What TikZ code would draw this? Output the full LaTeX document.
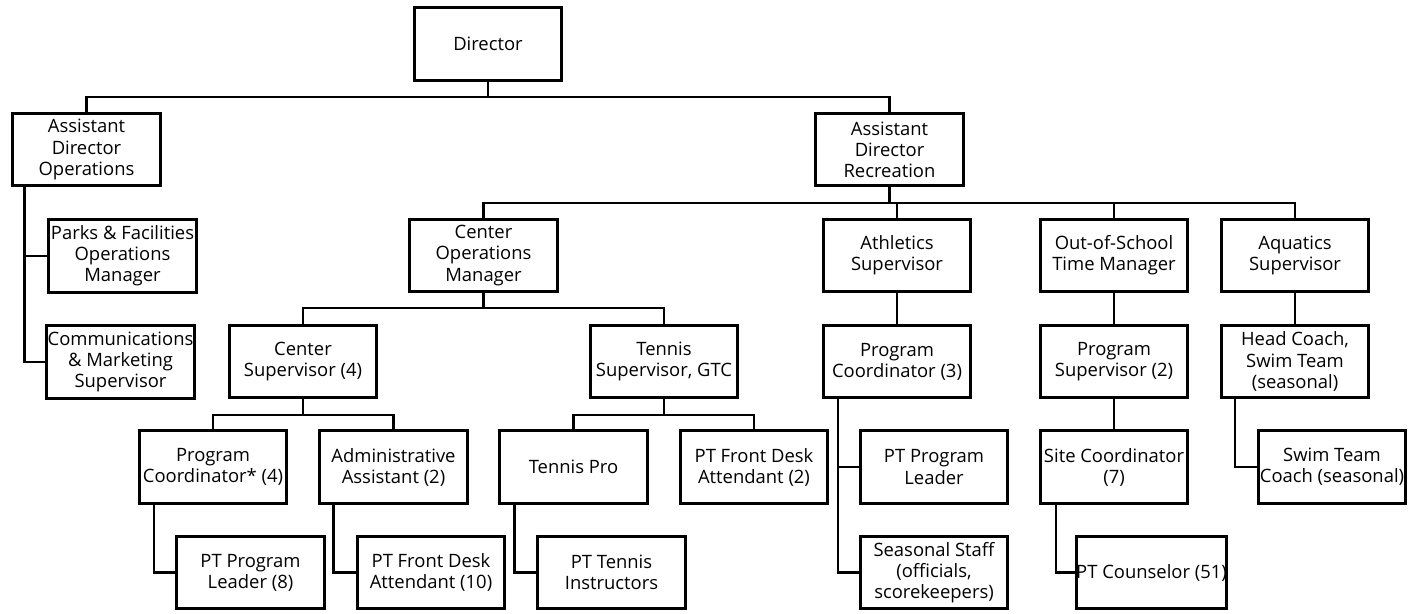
\documentclass[tikz,border=0pt]{standalone}
\usepackage{fontspec}
\setmainfont{Open Sans}

\begin{document}
\begin{tikzpicture}[
  x=0.025cm, y=-0.025cm,
  staff/.style = {rectangle, draw=black, line width=2.1pt, fill=white,
                  minimum width=3.68cm, minimum height=1.82cm, inner sep=0pt,
                  font=\fontsize{13.1}{15}\selectfont, align=center},
  conn/.style  = {line width=2pt, black}
]
\useasboundingbox (0,0) rectangle (1418,613);

\node[staff] (director)  at (488,  44)    {Director};
\node[staff] (adops)     at (86.5, 149.5) {Assistant\\Director\\Operations};
\node[staff] (adrec)     at (889.5,149.5) {Assistant\\Director\\Recreation};
\node[staff] (parks)     at (122.5,256)   {Parks \& Facilities\\Operations\\Manager};
\node[staff] (comms)     at (120.5,362)   {Communications\\\& Marketing\\Supervisor};
\node[staff] (com)       at (483.5,255.5) {Center\\Operations\\Manager};
\node[staff] (athl)      at (897,  255.5) {Athletics\\Supervisor};
\node[staff] (ost)       at (1114, 255.5) {Out-of-School\\Time Manager};
\node[staff] (aqua)      at (1295, 255.5) {Aquatics\\Supervisor};
\node[staff] (censup)    at (303,  361.5) {Center\\Supervisor (4)};
\node[staff] (tensup)    at (664,  361.5) {Tennis\\Supervisor, GTC};
\node[staff] (progco3)   at (897,  361.5) {Program\\Coordinator (3)};
\node[staff] (progsup)   at (1114, 361.5) {Program\\Supervisor (2)};
\node[staff] (headcoach) at (1295, 361.5) {Head Coach,\\Swim Team\\(seasonal)};
\node[staff] (progco4)   at (213,  467)   {Program\\Coordinator* (4)};
\node[staff] (admin)     at (393.5,467)   {Administrative\\Assistant (2)};
\node[staff] (tennispro) at (573.5,467)   {Tennis Pro};
\node[staff] (ptfd2)     at (754,  467)   {PT Front Desk\\Attendant (2)};
\node[staff] (ptpl)      at (934,  467)   {PT Program\\Leader};
\node[staff] (sitecoord) at (1114, 467)   {Site Coordinator\\(7)};
\node[staff] (swimcoach) at (1332, 467)   {Swim Team\\Coach (seasonal)};
\node[staff] (ptpl8)     at (250.5,572.5) {PT Program\\Leader (8)};
\node[staff] (ptfd10)    at (431,  572.5) {PT Front Desk\\Attendant (10)};
\node[staff] (ptti)      at (611.5,572.5) {PT Tennis\\Instructors};
\node[staff] (seasonal)  at (934,  572.5) {Seasonal Staff\\(officials,\\scorekeepers)};
\node[staff] (ptcouns)   at (1151.5,572.5){PT Counselor (51)};

% bus lines
\coordinate (dirbus) at (488,97);
\coordinate (recbus) at (889.5,203);
\coordinate (combus) at (483.5,308);
\coordinate (csbus)  at (303,415);
\coordinate (tsbus)  at (664,415);

\draw[conn] (director) -- (dirbus);
\draw[conn] (adops.north) |- (dirbus) -| (adrec.north);

\draw[conn] (adrec) -- (recbus);
\draw[conn] (com.north) |- (recbus) -| (aqua.north);
\draw[conn] (athl.north) -- (athl.north |- recbus);
\draw[conn] (ost.north)  -- (ost.north |- recbus);

\draw[conn] (com) -- (combus);
\draw[conn] (censup.north) |- (combus) -| (tensup.north);

\draw[conn] (censup) -- (csbus);
\draw[conn] (progco4.north) |- (csbus) -| (admin.north);
\draw[conn] (tensup) -- (tsbus);
\draw[conn] (tennispro.north) |- (tsbus) -| (ptfd2.north);

% straight drops
\draw[conn] (athl) -- (progco3);
\draw[conn] (ost) -- (progsup);
\draw[conn] (progsup) -- (sitecoord);
\draw[conn] (aqua) -- (headcoach);

% side trunks
\draw[conn] (adops.south west) ++(13,0) |- (parks.west);
\draw[conn] (adops.south west) ++(13,0) |- (comms.west);
\draw[conn] (progco3.south west) ++(16,0) |- (ptpl.west);
\draw[conn] (progco3.south west) ++(16,0) |- (seasonal.west);
\draw[conn] (sitecoord.south west) ++(17,0) |- (ptcouns.west);
\draw[conn] (headcoach.south west) ++(15,0) |- (swimcoach.west);
\draw[conn] (progco4.south west) ++(16,0) |- (ptpl8.west);
\draw[conn] (admin.south west) ++(15,0) |- (ptfd10.west);
\draw[conn] (tennispro.south west) ++(16,0) |- (ptti.west);
\end{tikzpicture}
\end{document}
